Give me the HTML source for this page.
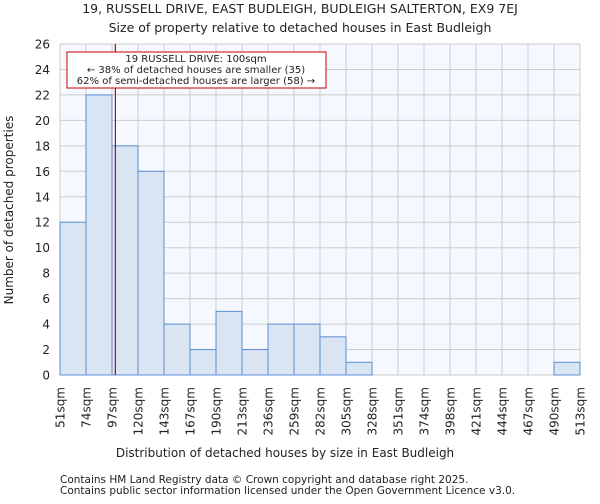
<!DOCTYPE html>
<html><head><meta charset="utf-8"><style>
body{margin:0;background:#fff;font-family:"DejaVu Sans","Liberation Sans",sans-serif;}
text{font-family:"DejaVu Sans","Liberation Sans",sans-serif;fill:#222;}
</style></head><body>
<svg id="chart" width="600" height="500">
<text x="300" y="13" font-size="12.5" text-anchor="middle">19, RUSSELL DRIVE, EAST BUDLEIGH, BUDLEIGH SALTERTON, EX9 7EJ</text>
<text x="300" y="32" font-size="12.5" text-anchor="middle">Size of property relative to detached houses in East Budleigh</text>
<rect x="60" y="44" width="520" height="331" fill="#f5f8fe"/>
<g id="grid"></g><g id="bars"></g><g id="axes"></g>
<text x="285" y="457" font-size="12" text-anchor="middle">Distribution of detached houses by size in East Budleigh</text>
<text transform="translate(13,210) rotate(-90)" font-size="12" text-anchor="middle">Number of detached properties</text>
<text x="60" y="483" font-size="10.5" fill="#444">Contains HM Land Registry data © Crown copyright and database right 2025.</text>
<text x="60" y="494" font-size="10.5" fill="#444">Contains public sector information licensed under the Open Government Licence v3.0.</text>
</svg>
<script>
const tickLabels=["51sqm","74sqm","97sqm","120sqm","143sqm","167sqm","190sqm","213sqm","236sqm","259sqm","282sqm","305sqm","328sqm","351sqm","374sqm","398sqm","421sqm","444sqm","467sqm","490sqm","513sqm"];
const binEdges=[51,74,97,120,143,167,190,213,236,259,282,305,328,351,374,398,421,444,467,490,513];
const counts=[12,22,18,16,4,2,5,2,4,4,3,1,0,0,0,0,0,0,0,1];
const yTicks=[0,2,4,6,8,10,12,14,16,18,20,22,24,26];
const propertySize=100;
const NS="http://www.w3.org/2000/svg";
const X0=60,X1=580,Y0=375,Y1=44,ymax=26;
const xi=i=>X0+i*(X1-X0)/(binEdges.length-1);
const xv=v=>{for(let i=0;i<binEdges.length-1;i++){if(v<=binEdges[i+1])return xi(i)+(v-binEdges[i])/(binEdges[i+1]-binEdges[i])*(xi(i+1)-xi(i));}return X1;};
const y=v=>Y0-v*(Y0-Y1)/ymax;
function mk(t,a,p){const e=document.createElementNS(NS,t);for(const k in a)e.setAttribute(k,a[k]);p.appendChild(e);return e;}
const grid=document.getElementById('grid'),bars=document.getElementById('bars'),axes=document.getElementById('axes');
yTicks.forEach(v=>{const l=mk('line',{x1:X0,x2:X1,y1:y(v),y2:y(v),stroke:'#cccccc'},grid);


const t=mk('text',{x:X0-10,y:y(v)+4.5,'font-size':12,'text-anchor':'end'},axes);t.textContent=v;

});
tickLabels.forEach((s,i)=>{const l=mk('line',{x1:xi(i),x2:xi(i),y1:Y1,y2:Y0,stroke:'#cccccc'},grid);


const t=mk('text',{x:0,y:0,'font-size':12,'text-anchor':'end',transform:`translate(${xi(i)+4.5},${Y0+12}) rotate(-90)`},axes);t.textContent=s;

});
counts.forEach((c,i)=>{if(c<=0)return;const r=mk('rect',{x:xi(i),y:y(c),width:xi(i+1)-xi(i),height:Y0-y(c),fill:'#dae5f4',stroke:'#5b8fd0','stroke-width':1},bars);

});
const px=xv(propertySize);
const m=mk('line',{x1:px,x2:px,y1:Y1,y2:Y0,stroke:'#c00','stroke-width':1.2},bars);


const box=mk('rect',{x:67,y:52,width:259,height:36,fill:'#fff',stroke:'#c00'},bars);


["19 RUSSELL DRIVE: 100sqm","← 38% of detached houses are smaller (35)","62% of semi-detached houses are larger (58) →"].forEach((s,i)=>{const t=mk('text',{x:196,y:62+i*11,'font-size':10,'text-anchor':'middle'},bars);t.textContent=s;

});
</script>
</body></html>
